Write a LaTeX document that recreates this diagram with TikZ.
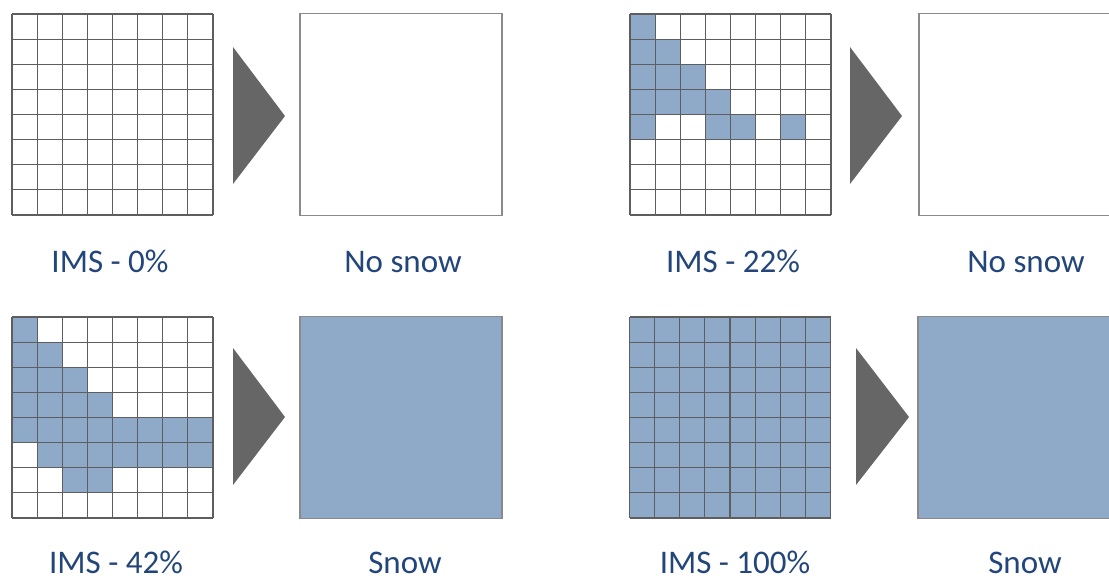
\documentclass[tikz,border=0pt]{standalone}
\usepackage{fontspec}
\setmainfont{Carlito}
\definecolor{snowblue}{HTML}{8FAAC9}
\definecolor{lblblue}{HTML}{22457A}
\definecolor{arrowgray}{HTML}{666666}
\definecolor{gridgray}{HTML}{5E5E5E}
\definecolor{boxgray}{HTML}{8A8A8A}
\tikzset{
  gridline/.style={draw=gridgray, line width=1.2pt},
  outbox/.style={draw=boxgray, line width=1.3pt, minimum width=202pt, minimum height=202pt, inner sep=0pt, outer sep=0pt},
  gridbox/.style={draw=none, minimum width=201pt, minimum height=201pt, inner sep=0pt, outer sep=0pt},
  pointer/.style={fill=arrowgray, draw=none},
  lbl/.style={text=lblblue, font=\fontsize{33}{36}\selectfont, anchor=base, inner sep=0pt}
}
\newcommand\cellsfill[3]{%
  \foreach \r/\c in {#3} {\fill[snowblue] (#1+\c*25.125, #2+\r*25.125) rectangle ++(25.125,25.125);}%
}
\newcommand\gridlines[2]{%
  \foreach \i in {0,...,8} {%
    \draw[gridline] (#1+\i*25.125,#2) -- ++(0,201);
    \draw[gridline] (#1,#2+\i*25.125) -- ++(201,0);
  }%
}
\begin{document}
\begin{tikzpicture}[x=1pt,y=-1pt]
\useasboundingbox (0,0) rectangle (1109,579);
% ---------- top left: IMS 0% ----------
\node[gridbox] (g1) at (112.5,114.5) {};
\gridlines{12}{14}
\fill[pointer] (233,47) -- (285,116) -- (233,184) -- cycle;
\node[outbox, fill=white] (o1) at (401,114.5) {};
\node[lbl] (l1) at (110,272) {IMS - 0\%};
\node[lbl] (m1) at (403,272) {No snow};
% ---------- top right: IMS 22% ----------
\node[gridbox] (g2) at (730.5,114.5) {};
\cellsfill{630}{14}{0/0,1/0,1/1,2/0,2/1,2/2,3/0,3/1,3/2,3/3,4/0,4/3,4/4,4/6}
\gridlines{630}{14}
\fill[pointer] (850,47) -- (902,116) -- (850,184) -- cycle;
\node[outbox, fill=white] (o2) at (1020,114.5) {};
\node[lbl] (l2) at (733,272) {IMS - 22\%};
\node[lbl] (m2) at (1026,272) {No snow};
% ---------- bottom left: IMS 42% ----------
\node[gridbox] (g3) at (112.5,417.5) {};
\cellsfill{12}{317}{0/0,1/0,1/1,2/0,2/1,2/2,3/0,3/1,3/2,3/3,4/0,4/1,4/2,4/3,4/4,4/5,4/6,4/7,5/1,5/2,5/3,5/4,5/5,5/6,5/7,6/2,6/3}
\gridlines{12}{317}
\fill[pointer] (233,348) -- (285,417) -- (233,485) -- cycle;
\node[outbox, fill=snowblue] (o3) at (401,417.5) {};
\node[lbl] (l3) at (116,573) {IMS - 42\%};
\node[lbl] (m3) at (405,573) {Snow};
% ---------- bottom right: IMS 100% ----------
\node[gridbox, fill=snowblue] (g4) at (730,417.5) {};
\gridlines{629.5}{317}
\fill[pointer] (856,348) -- (909,417) -- (856,485) -- cycle;
\node[outbox, fill=snowblue] (o4) at (1019,417.5) {};
\node[lbl] (l4) at (735,573) {IMS - 100\%};
\node[lbl] (m4) at (1025,573) {Snow};
\end{tikzpicture}
\end{document}
